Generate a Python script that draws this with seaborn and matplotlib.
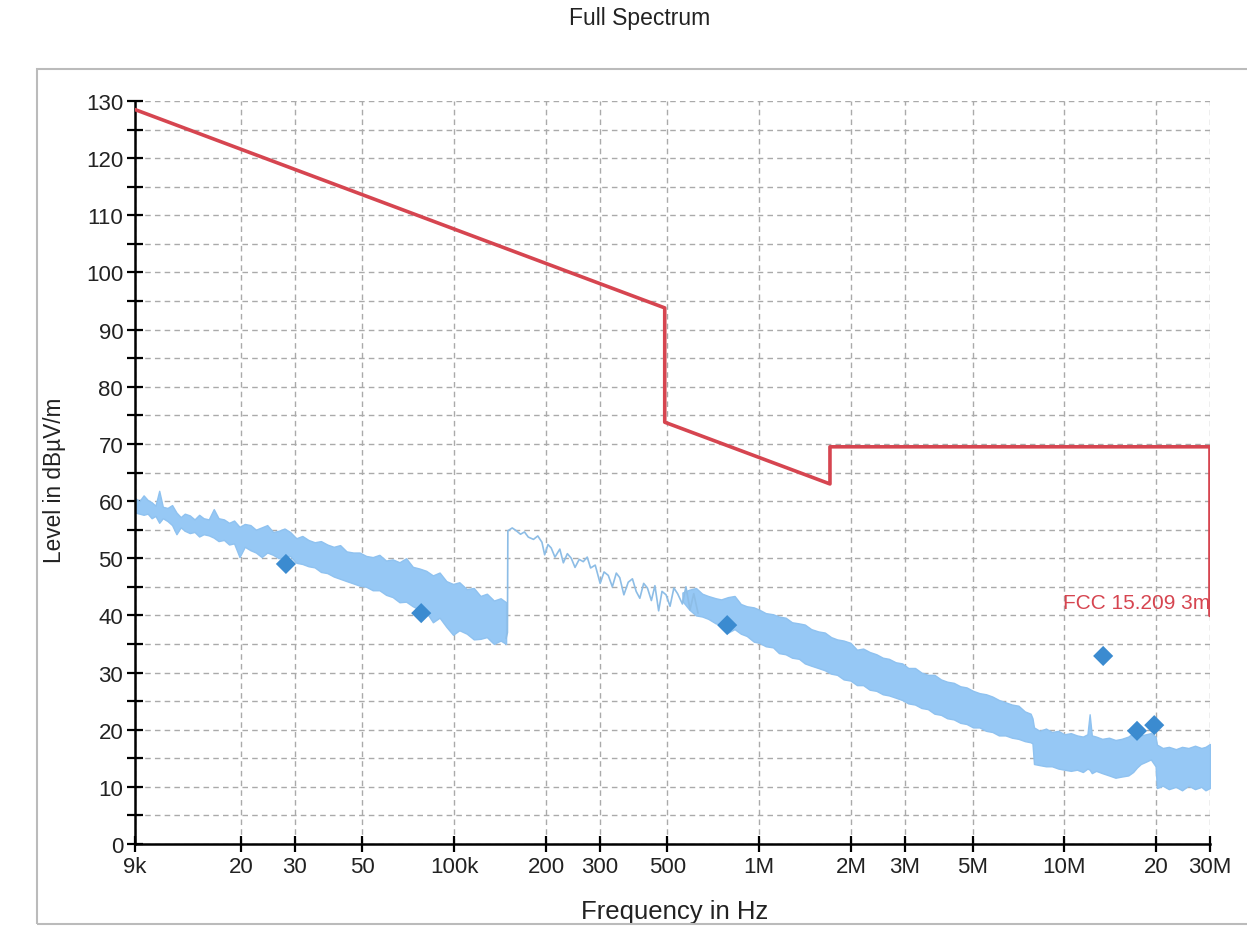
import matplotlib
matplotlib.use("Agg")
import matplotlib.pyplot as plt
from matplotlib.patches import Rectangle
from matplotlib.ticker import FixedLocator, MultipleLocator, NullLocator
import seaborn as sns
import pandas as pd

# FCC 15.209 limit (3 m)
limit_freq = [9e3, 490e3, 490e3, 1.705e6, 1.705e6, 30e6, 30e6]
limit_level = [128.5, 93.8, 73.8, 63.0, 69.5, 69.5, 40.0]

# dense scan below 150 kHz: envelope (kHz, upper, lower)
low_khz = [9.0, 9.3, 9.6, 9.9, 10.2, 10.5, 10.8, 11.1, 11.5, 11.9,
           12.3, 12.7, 13.1, 13.6, 14.1, 14.6, 15.1, 15.7, 16.3, 16.9,
           17.6, 18.3, 19.0, 19.8, 20.6, 21.5, 22.4, 23.4, 24.4, 25.5,
           26.6, 27.8, 29.0, 30.4, 31.8, 33.3, 34.9, 36.6, 38.4, 40.3,
           42.3, 44.4, 46.7, 49.0, 51.5, 54.1, 56.9, 59.8, 62.9, 66.2,
           69.6, 73.2, 77.0, 81.0, 85.2, 89.6, 94.3, 99.2, 104, 110,
           116, 122, 128, 135, 142, 148]
low_upper = [60.5, 60.0, 61.0, 60.2, 59.8, 59.2, 61.8, 59.0, 58.8, 59.3,
             58.0, 57.2, 57.8, 57.5, 56.8, 57.6, 57.0, 56.8, 58.6, 57.0,
             56.8, 56.2, 56.6, 55.5, 56.0, 55.8, 55.0, 55.4, 55.8, 54.6,
             54.8, 55.2, 54.6, 53.5, 53.9, 53.2, 52.8, 53.0, 52.4, 52.0,
             52.3, 51.2, 51.0, 51.0, 50.4, 50.2, 50.6, 49.6, 49.8, 49.3,
             50.0, 48.5, 48.2, 47.8, 47.0, 47.5, 46.0, 45.5, 45.8, 44.6,
             44.8, 43.4, 43.8, 42.6, 43.0, 42.3]
low_lower = [58.0, 57.8, 57.6, 57.8, 57.0, 57.4, 56.2, 57.0, 56.5, 55.8,
             54.2, 55.4, 54.8, 54.4, 54.6, 53.8, 54.2, 54.0, 53.6, 53.0,
             53.2, 52.4, 52.6, 50.2, 52.0, 51.4, 51.0, 50.2, 51.0, 50.6,
             50.0, 50.2, 50.4, 49.2, 49.0, 48.6, 48.4, 47.6, 47.4, 46.8,
             46.4, 46.0, 45.6, 45.2, 45.0, 44.4, 44.4, 43.6, 43.2, 42.3,
             42.4, 41.6, 41.0, 40.6, 38.8, 39.6, 38.0, 36.6, 37.4, 36.8,
             35.8, 35.9, 36.2, 35.0, 35.6, 35.0]

# sparse trace 150 kHz .. 630 kHz
mid_khz = [148, 149.5, 150, 155, 160, 165, 170, 175, 182, 188,
           194, 198, 203, 208, 214, 222, 228, 235, 242, 249,
           257, 265, 273, 280, 290, 301, 310, 320, 330, 340,
           349, 360, 372, 384, 395, 406, 418, 430, 443, 455,
           468, 480, 495, 510, 525, 540, 560, 575, 593, 610, 630]
mid_level = [36.0, 37.0, 54.8, 55.3, 54.8, 54.2, 54.6, 53.7, 53.3, 53.9,
             52.8, 50.6, 52.4, 51.8, 50.2, 51.6, 49.2, 50.8, 50.0, 48.4,
             49.8, 49.4, 50.2, 48.3, 48.8, 45.6, 47.6, 47.0, 45.0, 47.4,
             46.6, 43.6, 45.8, 46.4, 44.2, 43.0, 45.6, 44.8, 42.6, 45.2,
             40.8, 44.2, 43.6, 41.6, 44.8, 43.8, 42.0, 45.0, 41.0, 43.8, 40.4]

# dense scan above 560 kHz: envelope (MHz, upper, lower)
high_mhz = [0.56, 0.59, 0.62, 0.65, 0.68, 0.72, 0.75, 0.79, 0.83, 0.87,
            0.91, 0.96, 1.00, 1.05, 1.11, 1.16, 1.22, 1.28, 1.35, 1.41,
            1.48, 1.56, 1.64, 1.72, 1.80, 1.89, 1.99, 2.09, 2.19, 2.30,
            2.42, 2.54, 2.66, 2.80, 2.94, 3.08, 3.24, 3.40, 3.57, 3.75,
            3.94, 4.13, 4.34, 4.56, 4.78, 5.02, 5.27, 5.54, 5.81, 6.10,
            6.41, 6.73, 7.07, 7.42, 7.75, 7.86, 7.95, 8.30, 8.70, 9.10,
            9.55, 10.0, 10.5, 11.0, 11.5, 11.9, 12.1, 12.3, 12.7, 13.3,
            14.0, 14.7, 15.4, 16.2, 16.8, 17.3, 17.8, 18.5, 19.2, 19.9,
            20.1, 21.0, 22.0, 23.2, 24.3, 25.5, 26.8, 28.1, 29.0, 30.0]
high_upper = [44.0, 44.5, 44.8, 43.8, 43.4, 43.0, 42.8, 43.2, 43.4, 42.0,
              41.6, 41.4, 41.0, 40.4, 40.2, 39.8, 39.6, 38.8, 38.6, 38.4,
              37.6, 37.2, 37.0, 36.2, 35.8, 35.6, 35.2, 34.0, 34.2, 33.6,
              33.2, 32.6, 32.4, 31.8, 31.6, 30.8, 30.8, 30.0, 29.6, 29.6,
              28.8, 28.4, 28.2, 27.6, 27.4, 26.8, 26.4, 26.2, 25.8, 25.2,
              24.8, 24.4, 24.2, 23.2, 22.8, 22.0, 20.4, 19.8, 20.2, 19.6,
              19.8, 19.2, 19.4, 19.0, 18.8, 19.2, 22.7, 19.0, 18.8, 18.4,
              18.6, 18.2, 18.4, 18.8, 19.4, 20.1, 19.0, 19.2, 19.4, 18.8,
              17.4, 16.8, 17.0, 16.6, 17.0, 16.8, 17.2, 16.8, 17.0, 17.5]
high_lower = [42.5, 41.0, 40.0, 39.8, 39.4, 38.6, 38.4, 37.0, 37.6, 36.8,
              36.4, 35.4, 35.2, 34.6, 34.4, 33.4, 33.2, 32.6, 32.4, 31.6,
              31.2, 30.8, 30.4, 29.8, 29.6, 28.8, 28.6, 27.8, 27.8, 27.0,
              26.8, 26.2, 26.0, 25.6, 25.2, 24.6, 24.4, 23.8, 23.6, 22.8,
              22.6, 22.0, 21.8, 21.2, 21.0, 20.4, 20.4, 19.8, 19.6, 19.0,
              19.0, 18.6, 18.4, 18.0, 17.8, 17.6, 14.0, 13.8, 13.6, 13.6,
              13.2, 13.0, 12.8, 13.0, 12.6, 13.2, 13.0, 12.4, 12.8, 12.4,
              12.0, 11.6, 11.8, 12.0, 12.6, 13.4, 14.0, 14.4, 14.8, 13.6,
              9.8, 10.2, 9.6, 10.0, 9.4, 10.2, 9.6, 10.0, 9.4, 9.8]

# final measurement points
peak_freq = [28.1e3, 78e3, 785e3, 13.4e6, 17.3e6, 19.7e6]
peak_level = [49.0, 40.4, 38.3, 32.9, 19.8, 20.8]

tick_freq = [9e3, 20e3, 30e3, 50e3, 100e3, 200e3, 300e3, 500e3, 1e6, 2e6, 3e6, 5e6, 10e6, 20e6, 30e6]
tick_text = ["9k", "20", "30", "50", "100k", "200", "300", "500", "1M", "2M", "3M", "5M", "10M", "20", "30M"]

sns.set_theme(style="white")
plt.rcParams["font.family"] = ["Liberation Sans", "DejaVu Sans"]

limit_color = "#D64550"
trace_color = "#96C8F5"
peak_color = "#3B8BD0"

fig = plt.figure(figsize=(12.47, 9.29), dpi=100)
ax = fig.add_axes([0.1083, 0.0904, 0.8620, 0.7998])

# outer frame
fig.patches.append(Rectangle((0.0297, 0.004), 1.0, 0.9207, transform=fig.transFigure,
                             fill=False, edgecolor="#BBBBBB", linewidth=1.5))

low_df = pd.DataFrame({"f": [k * 1e3 for k in low_khz], "hi": low_upper, "lo": low_lower})
high_df = pd.DataFrame({"f": [m * 1e6 for m in high_mhz], "hi": high_upper, "lo": high_lower})
for d in (low_df, high_df):
    ax.fill_between(d["f"], d["lo"], d["hi"], color=trace_color, linewidth=1.0,
                    edgecolor="#8FC2F0", zorder=2)

mid_df = pd.DataFrame({"f": [k * 1e3 for k in mid_khz], "v": mid_level})
sns.lineplot(data=mid_df, x="f", y="v", ax=ax, color="#8DBDE6", linewidth=1.2,
             estimator=None, sort=False, zorder=2)

lim_df = pd.DataFrame({"f": limit_freq, "v": limit_level})
sns.lineplot(data=lim_df, x="f", y="v", ax=ax, color=limit_color, linewidth=2.6,
             estimator=None, sort=False, zorder=3)

pk_df = pd.DataFrame({"f": peak_freq, "v": peak_level})
sns.scatterplot(data=pk_df, x="f", y="v", ax=ax, marker="D", s=105, color=peak_color,
                edgecolor="none", zorder=4)

ax.text(30e6, 40.6, "FCC 15.209 3m", color=limit_color, fontsize=15, ha="right",
        va="bottom", zorder=5)

ax.set_xscale("log")
ax.set_xlim(9e3, 30e6)
ax.set_ylim(0, 130)
ax.xaxis.set_major_locator(FixedLocator(tick_freq))
ax.xaxis.set_minor_locator(NullLocator())
ax.set_xticklabels(tick_text)
ax.yaxis.set_major_locator(MultipleLocator(10))
ax.yaxis.set_minor_locator(MultipleLocator(5))

ax.grid(True, which="major", axis="x", color="#AAAAAA", linestyle=(0, (4, 3)), linewidth=1)
ax.grid(True, which="both", axis="y", color="#AAAAAA", linestyle=(0, (4, 3)), linewidth=1)
ax.set_axisbelow(True)

for s in ["top", "right"]:
    ax.spines[s].set_visible(False)
for s in ["left", "bottom"]:
    ax.spines[s].set_color("black")
    ax.spines[s].set_linewidth(1.8)

ax.tick_params(axis="both", which="both", direction="inout", color="black", width=1.6,
               length=11, labelsize=16, labelcolor="#222222", pad=3,
               bottom=True, left=True)

ax.set_xlabel("Frequency in Hz", fontsize=18.5, color="#222222")
ax.set_ylabel("Level in dBµV/m", fontsize=16.3, color="#222222")
ax.xaxis.set_label_coords(0.502, -0.074)
ax.yaxis.set_label_coords(-0.064, 0.491)

fig.text(0.513, 0.980, "Full Spectrum", fontsize=16.5, ha="center", va="center", color="#222222")

fig.savefig("out.png", dpi=100)
